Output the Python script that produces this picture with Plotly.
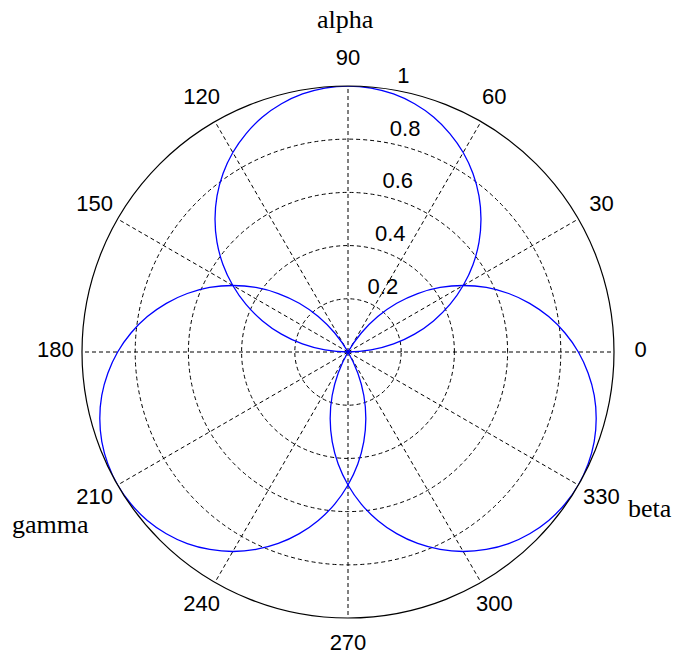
import plotly.graph_objects as go

# Lobe directions (degrees) and their names
lobe_names = ["alpha", "beta", "gamma"]
lobe_dirs = [90, 330, 210]

# Lobe radius vs. angular offset from the lobe axis, at 5 degree steps (0..90)
profile_offsets = [0, 5, 10, 15, 20, 25, 30, 35, 40, 45, 50, 55, 60, 65, 70, 75, 80, 85, 90]
profile_r = [1.00, 0.996, 0.985, 0.966, 0.940, 0.906, 0.866, 0.819, 0.766, 0.707,
             0.643, 0.574, 0.500, 0.423, 0.342, 0.259, 0.174, 0.087, 0.00]

# Axis ticks
ang_ticks = [0, 30, 60, 90, 120, 150, 180, 210, 240, 270, 300, 330]
ang_labels = ["0", "30", "60", "90", "120", "150", "180", "210", "240", "270", "300", "330"]
rad_ticks = [0.2, 0.4, 0.6, 0.8, 1.0]
rad_labels = ["0.2", "0.4", "0.6", "0.8", "1"]

# Angle labels ring sits at 1.1x the plot radius; radius labels along the 82 degree spoke
ang_label_scale = 1.1
rad_label_theta = 82

fig = go.Figure()

for name, d in zip(lobe_names, lobe_dirs):
    offs = [-o for o in profile_offsets[::-1]] + profile_offsets[1:]
    rs = profile_r[::-1] + profile_r[1:]
    fig.add_trace(go.Scatterpolar(
        r=rs, theta=[d + o for o in offs], mode="lines", name=name,
        line=dict(color="#0000ff", width=1.3, shape="spline"),
        showlegend=False, hoverinfo="skip",
    ))

tick_font = dict(family="Liberation Sans, Arial, sans-serif", size=22, color="black")

# radius tick labels
fig.add_trace(go.Scatterpolar(
    r=rad_ticks, theta=[rad_label_theta] * len(rad_ticks),
    text=["\u00a0\u00a0" + t for t in rad_labels],
    mode="text", textposition="top right", textfont=tick_font,
    cliponaxis=False, showlegend=False, hoverinfo="skip",
))

# angle tick labels, on an invisible outer ring
fig.add_trace(go.Scatterpolar(
    r=[1.0] * len(ang_ticks), theta=ang_ticks, text=ang_labels,
    mode="text", textposition="middle center", textfont=tick_font,
    cliponaxis=False, showlegend=False, hoverinfo="skip", subplot="polar2",
))

W, H = 678, 662
cx, cy, R = 348, 352, 266
R2 = R * ang_label_scale


def domain(rad):
    return dict(x=[(cx - rad) / W, (cx + rad) / W],
                y=[(H - cy - rad) / H, (H - cy + rad) / H])


hidden_ang = dict(rotation=0, direction="counterclockwise", showline=False,
                  showgrid=False, showticklabels=False, ticks="")
hidden_rad = dict(range=[0, 1], showline=False, showgrid=False,
                  showticklabels=False, ticks="")

fig.update_layout(
    width=W, height=H,
    margin=dict(l=0, r=0, t=0, b=0),
    paper_bgcolor="white",
    font=tick_font,
    polar=dict(
        domain=domain(R),
        bgcolor="white",
        angularaxis=dict(
            rotation=0, direction="counterclockwise",
            tickmode="array", tickvals=ang_ticks, showticklabels=False,
            showline=True, linecolor="black", linewidth=1.2,
            showgrid=True, gridcolor="black", gridwidth=1, griddash="4px,3px",
            ticks="",
        ),
        radialaxis=dict(
            range=[0, 1], angle=rad_label_theta,
            tickmode="array", tickvals=rad_ticks, showticklabels=False,
            showline=False, ticks="",
            showgrid=True, gridcolor="black", gridwidth=1, griddash="4px,3px",
        ),
    ),
    polar2=dict(
        domain=domain(R2),
        bgcolor="rgba(0,0,0,0)",
        angularaxis=hidden_ang,
        radialaxis=hidden_rad,
    ),
)

serif = dict(family="Liberation Serif, Times New Roman, serif", size=26, color="black")
label_pos = {"alpha": (345, 20), "beta": (650, 508), "gamma": (50, 524)}
for name in lobe_names:
    x, y = label_pos[name]
    fig.add_annotation(x=x / W, y=1 - y / H, xref="paper", yref="paper",
                       text=name, showarrow=False, font=serif,
                       xanchor="center", yanchor="middle")

fig.write_html("out.html")
